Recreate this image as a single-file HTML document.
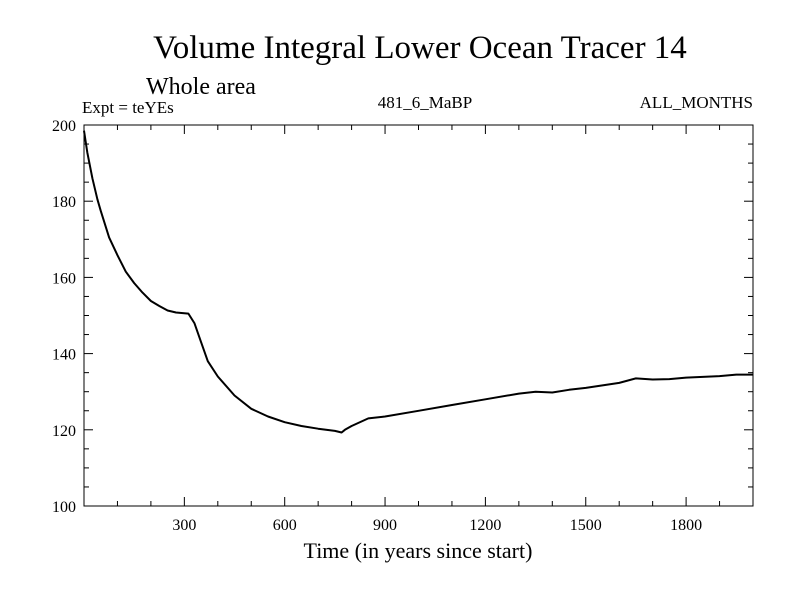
<!DOCTYPE html>
<html><head><meta charset="utf-8"><style>
body{margin:0;background:#fff;}
svg text{font-family:"Liberation Serif",serif;fill:#000;}
</style></head><body>
<svg width="800" height="600" viewBox="0 0 800 600">
<text x="420" y="58" font-size="33" text-anchor="middle">Volume Integral Lower Ocean Tracer 14</text>
<text x="146" y="94" font-size="24">Whole area</text>
<text x="82" y="113" font-size="17">Expt = teYEs</text>
<text x="425" y="108" font-size="17" text-anchor="middle">481_6_MaBP</text>
<text x="753" y="108" font-size="17" text-anchor="end">ALL_MONTHS</text>
<g id="axes"></g>
<path id="line" fill="none" stroke="#000" stroke-width="2" stroke-linejoin="round"/>
<text x="418" y="558" font-size="22" text-anchor="middle">Time (in years since start)</text>
</svg>
<script>
const years=[0,10,25,40,50,75,100,125,150,175,200,225,250,275,300,312,330,350,370,400,450,500,550,600,650,700,750,770,780,800,850,900,1000,1100,1200,1300,1350,1400,1450,1500,1600,1650,1700,1750,1800,1900,1950,2000];
const values=[198.5,192.8,186,180.5,177.5,170.5,165.8,161.5,158.5,156,153.8,152.5,151.3,150.8,150.6,150.5,148,143,138,134,129,125.5,123.5,122,121,120.3,119.7,119.3,120,121,123,123.5,125,126.5,128,129.5,130,129.8,130.5,131,132.3,133.5,133.2,133.3,133.7,134.1,134.5,134.5];
const xTicks=[300,600,900,1200,1500,1800];
const yTicks=[100,120,140,160,180,200];
const L=84,R=753,T=125,B=506,X0=0,X1=2000,Y0=100,Y1=200;
const sx=v=>L+(v-X0)/(X1-X0)*(R-L);
const sy=v=>B-(v-Y0)/(Y1-Y0)*(B-T);
const NS='http://www.w3.org/2000/svg';
const g=document.getElementById('axes');
function ln(x1,y1,x2,y2,name){const e=document.createElementNS(NS,'line');
e.setAttribute('x1',x1);e.setAttribute('y1',y1);e.setAttribute('x2',x2);e.setAttribute('y2',y2);
e.setAttribute('stroke','#000');e.setAttribute('stroke-width','1');


g.appendChild(e);}
function tx(x,y,s,anchor,name){const e=document.createElementNS(NS,'text');
e.setAttribute('x',x);e.setAttribute('y',y);e.setAttribute('font-size','16');e.setAttribute('text-anchor',anchor);e.textContent=s;


g.appendChild(e);}
const fr=document.createElementNS(NS,'rect');
fr.setAttribute('x',L);fr.setAttribute('y',T);fr.setAttribute('width',R-L);fr.setAttribute('height',B-T);
fr.setAttribute('fill','none');fr.setAttribute('stroke','#000');


g.appendChild(fr);
for(let v=100;v<X1;v+=100){const x=sx(v);const big=v%300===0;const len=big?9:5;
ln(x,B,x,B-len,'x-tick');ln(x,T,x,T+len,'x-tick-top');}
for(let v=Y0+5;v<Y1;v+=5){const y=sy(v);const big=v%20===0;const len=big?9:5;
ln(L,y,L+len,y,'y-tick');ln(R,y,R-len,y,'y-tick-right');}
xTicks.forEach(v=>tx(sx(v),B+24,String(v),'middle','x-tick-label'));
yTicks.forEach(v=>tx(L-8,sy(v)+6,String(v),'end','y-tick-label'));
document.getElementById('line').setAttribute('d',years.map((y,i)=>(i?'L':'M')+sx(y).toFixed(1)+','+sy(values[i]).toFixed(1)).join(''));
</script>
</body></html>
